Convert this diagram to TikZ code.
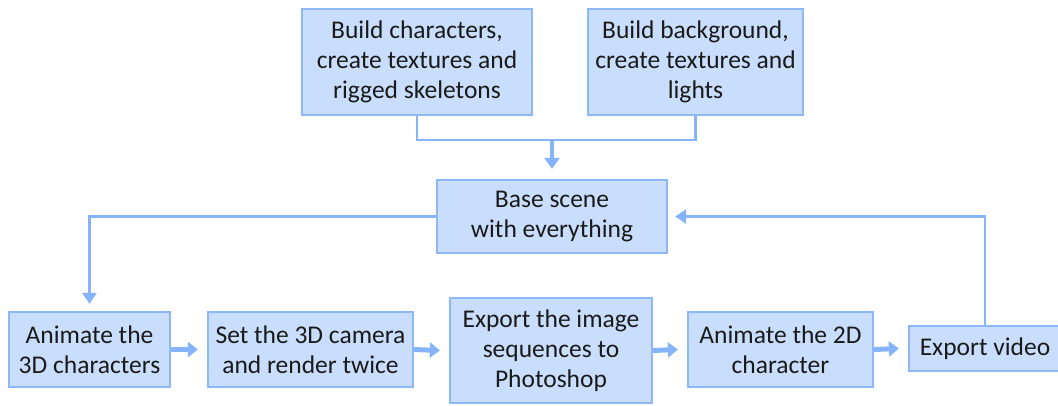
\documentclass[tikz,border=0pt]{standalone}
\usepackage{fontspec}
\setmainfont{Carlito}
\usetikzlibrary{arrows.meta}
\definecolor{boxfill}{HTML}{C9DDFC}
\definecolor{boxline}{HTML}{8DB7F7}
\definecolor{arrowc}{HTML}{86B4FA}
\definecolor{txt}{HTML}{1A1A1A}
\begin{document}
\begin{tikzpicture}[x=1bp,y=-1bp,
  box/.style={draw=boxline, fill=boxfill, line width=2.2bp, inner sep=0pt,
    align=center, text=txt, font=\fontsize{25.5bp}{30bp}\selectfont},
  thin/.style={draw=arrowc, line width=2.4bp},
  thinarr/.style={thin, -{Triangle[length=11bp,width=14bp]}},
  fatarr/.style={draw=arrowc, line width=5bp, -{Triangle[length=10bp,width=15bp]}},
  midarr/.style={draw=arrowc, line width=4bp, -{Triangle[length=11bp,width=15bp]}}]
\useasboundingbox (0,0) rectangle (1058,405);
\node[box, minimum width=230bp, minimum height=106bp] (c1) at (417,62)
  {Build characters,\\create textures and\\rigged skeletons};
\node[box, minimum width=215bp, minimum height=106bp] (c2) at (695.5,62)
  {Build background,\\create textures and\\lights};
\node[box, minimum width=230bp, minimum height=73bp] (base) at (552,216.5)
  {Base scene\\with everything};
\node[box, minimum width=161bp, minimum height=75bp] (a3) at (89.5,349.5)
  {Animate the\\3D characters};
\node[box, minimum width=205bp, minimum height=75bp] (cam) at (310.5,349.5)
  {Set the 3D camera\\and render twice};
\node[box, minimum width=202bp, minimum height=105bp] (exp) at (551,350.5)
  {Export the image\\sequences to\\Photoshop};
\node[box, minimum width=185bp, minimum height=75bp] (a2) at (780.5,349.5)
  {Animate the 2D\\character};
\node[box, minimum width=152bp, minimum height=45bp] (vid) at (985,348.5)
  {Export video};
\coordinate (j) at (552,140);
\draw[thin] (c1.south) |- (j) -| (c2.south);
\draw[midarr] (j) -- ([yshift=10bp]base.north);
\draw[thinarr] (base.west) -| ([yshift=7bp]a3.north);
\draw[thinarr] (vid.north) |- ([xshift=7bp]base.east);
\draw[fatarr] (a3.east) -- ([xshift=-9bp]cam.west);
\draw[fatarr] (cam.east) -- ([xshift=-9bp]exp.west);
\draw[fatarr] (exp.east) -- ([xshift=-9bp]a2.west);
\draw[fatarr] (a2.east) -- ([xshift=-9bp]vid.west);
\end{tikzpicture}
\end{document}
